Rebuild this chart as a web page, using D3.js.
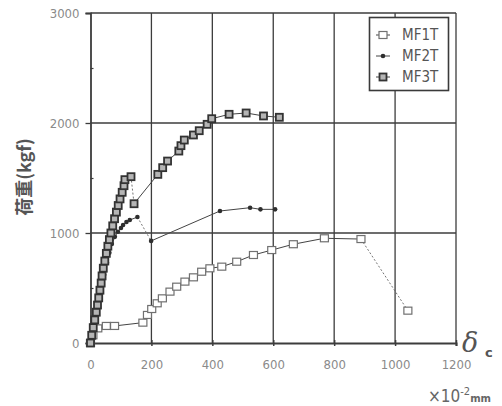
<!DOCTYPE html>
<html>
<head>
<meta charset="utf-8">
<script src="https://cdn.jsdelivr.net/npm/d3@7"></script>
<style>
  html, body { margin: 0; padding: 0; background: #fff; }
  svg { display: block; }
</style>
</head>
<body>
<svg id="chart" width="502" height="406"></svg>
<script>
// Load–displacement curves of three specimens (displacement in 1e-2 mm, load in kgf)
const xTicks = [0, 200, 400, 600, 800, 1000, 1200];
const yTicks = [0, 1000, 2000, 3000];
const yMinorTicks = [500, 1500, 2500];
const seriesNames = ["MF1T", "MF2T", "MF3T"];

const mf1tX = [0, 8, 24, 52, 79, 172, 187, 201, 219, 236, 261, 283, 310, 338, 365, 392, 431, 480, 535, 595, 666, 768, 888, 1042];
const mf1tY = [0, 70, 133, 155, 155, 185, 255, 309, 361, 406, 467, 512, 558, 597, 648, 679, 694, 739, 800, 845, 898, 952, 945, 294];

const mf2tX = [0, 6, 13, 21, 29, 37, 45, 54, 62, 70, 80, 90, 100, 107, 118, 129, 154, 199, 425, 524, 558, 606];
const mf2tY = [0, 80, 180, 290, 400, 510, 620, 730, 820, 900, 965, 1012, 1045, 1073, 1100, 1118, 1145, 928, 1200, 1230, 1215, 1215];

const mf3tX = [0, 4, 9, 14, 19, 23, 27, 31, 35, 38, 42, 47, 52, 57, 62, 67, 73, 79, 85, 91, 97, 104, 110, 113, 133, 143, 221, 237, 253, 290, 297, 308, 338, 357, 383, 398, 455, 511, 568, 620];
const mf3tY = [0, 70, 140, 210, 280, 345, 410, 480, 545, 610, 680, 745, 815, 880, 940, 1000, 1065, 1130, 1190, 1250, 1310, 1370, 1430, 1485, 1512, 1266, 1533, 1594, 1654, 1745, 1794, 1845, 1891, 1930, 1988, 2039, 2079, 2091, 2064, 2052];

// index of the point after which the curve drops (drawn dotted)
const dropAfter = [22, 16, 24];

const svg = d3.select("#chart");
const x = d3.scaleLinear().domain([0, 1200]).range([90.5, 456]);
const y = d3.scaleLinear().domain([0, 3000]).range([343, 13]);

const gridColor = "#3c3c3c";
const labelColor = "#8a8a8a";
const tickFont = "'Liberation Sans Narrow', 'DejaVu Sans Condensed', sans-serif";

// grid lines
const grid = svg.append("g");
grid.selectAll("line.v").data(xTicks.slice(1)).join("line")
  .attr("x1", d => x(d)).attr("x2", d => x(d))
  .attr("y1", y(3000)).attr("y2", y(0))
  .attr("stroke", gridColor).attr("stroke-width", 1.3);
grid.selectAll("line.h").data(yTicks.slice(1)).join("line")
  .attr("x1", x(0)).attr("x2", x(1200))
  .attr("y1", d => y(d)).attr("y2", d => y(d))
  .attr("stroke", gridColor).attr("stroke-width", 1.3);

// axes
const yAxis = d3.axisLeft(y).tickValues(yTicks).tickSize(5).tickPadding(6).tickFormat(d3.format("d"));
const gy = svg.append("g").attr("transform", `translate(${x(0)},0)`).call(yAxis);
gy.select(".domain").attr("stroke", gridColor).attr("stroke-width", 1.8);
gy.selectAll(".tick line").attr("stroke", gridColor).attr("stroke-width", 1.3);
gy.selectAll(".tick text").attr("fill", labelColor).attr("font-family", tickFont).attr("font-size", 13);

const yMinor = d3.axisRight(y).tickValues(yMinorTicks).tickSize(3).tickFormat("");
const gym = svg.append("g").attr("transform", `translate(${x(0)},0)`).call(yMinor);
gym.select(".domain").remove();
gym.selectAll(".tick line").attr("stroke", gridColor).attr("stroke-width", 1.2);

const xAxis = d3.axisBottom(x).tickValues(xTicks).tickSize(3).tickPadding(14).tickFormat(d3.format("d"));
const gx = svg.append("g").attr("transform", `translate(0,${y(0)})`).call(xAxis);
gx.select(".domain").attr("stroke", gridColor).attr("stroke-width", 2);
gx.selectAll(".tick line").attr("stroke", gridColor).attr("stroke-width", 1.5).attr("y1", -3);
gx.selectAll(".tick text").attr("fill", labelColor).attr("font-family", tickFont).attr("font-size", 13);

// series drawing
const series = [
  { name: seriesNames[0], xs: mf1tX, ys: mf1tY, drop: dropAfter[0] },
  { name: seriesNames[1], xs: mf2tX, ys: mf2tY, drop: dropAfter[1] },
  { name: seriesNames[2], xs: mf3tX, ys: mf3tY, drop: dropAfter[2] }
];

const line = d3.line().x(d => x(d[0])).y(d => y(d[1]));

function drawMarker(g, kind, cx, cy) {
  if (kind === 0) {
    g.append("rect").attr("x", cx - 4).attr("y", cy - 3.5).attr("width", 8).attr("height", 7)
      .attr("fill", "#fff").attr("stroke", "#707070").attr("stroke-width", 1.2);
  } else if (kind === 1) {
    g.append("circle").attr("cx", cx).attr("cy", cy).attr("r", 2.3).attr("fill", "#2e2e2e");
  } else {
    g.append("rect").attr("x", cx - 3.5).attr("y", cy - 3.5).attr("width", 7).attr("height", 7)
      .attr("fill", "#b5b5b5").attr("stroke", "#333").attr("stroke-width", 1.8);
  }
}

series.forEach((s, k) => {
  const pts = s.xs.map((v, i) => [v, s.ys[i]]);
  const g = svg.append("g");
  g.append("path").datum(pts.slice(0, s.drop + 1)).attr("d", line)
    .attr("fill", "none").attr("stroke", "#444").attr("stroke-width", 1);
  g.append("path").datum(pts.slice(s.drop, s.drop + 2)).attr("d", line)
    .attr("fill", "none").attr("stroke", "#666").attr("stroke-width", 0.9).attr("stroke-dasharray", "2,2");
  g.append("path").datum(pts.slice(s.drop + 1)).attr("d", line)
    .attr("fill", "none").attr("stroke", "#444").attr("stroke-width", 1);
  pts.forEach(p => drawMarker(g, k, x(p[0]), y(p[1])));
});

// legend
const lg = svg.append("g");
lg.append("rect").attr("x", 369.5).attr("y", 17.5).attr("width", 79).attr("height", 73)
  .attr("fill", "#fff").attr("stroke", "#3a3a3a").attr("stroke-width", 1.6);
const legendY = [35, 56, 77];
seriesNames.forEach((n, k) => {
  const cy = legendY[k];
  lg.append("line").attr("x1", 376).attr("x2", 390).attr("y1", cy).attr("y2", cy)
    .attr("stroke", "#444").attr("stroke-width", 1);
  drawMarker(lg, k, 383, cy);
  lg.append("text").attr("x", 402).attr("y", cy + 5).text(n)
    .attr("font-family", tickFont).attr("font-size", 15).attr("fill", "#555");
});

// axis titles
svg.append("text")
  .attr("transform", "translate(31,177) rotate(-90)")
  .attr("text-anchor", "middle")
  .attr("font-family", "'Noto Sans CJK JP', sans-serif")
  .attr("font-weight", "bold").attr("font-size", 18).attr("fill", "#555")
  .text("荷重(kgf)");

svg.append("text").attr("x", 462).attr("y", 352).attr("fill", "#555")
  .attr("font-family", "'DejaVu Serif', serif").attr("font-style", "italic").attr("font-size", 27)
  .text("δ");
svg.append("text").attr("x", 485).attr("y", 357).attr("fill", "#555")
  .attr("font-family", "'DejaVu Sans', sans-serif").attr("font-weight", "bold").attr("font-size", 13)
  .text("c");

const un = svg.append("text").attr("x", 428).attr("y", 402).attr("fill", "#666");
un.append("tspan").text("×10").attr("font-family", tickFont).attr("font-size", 17);
un.append("tspan").text("-2").attr("font-family", tickFont).attr("font-size", 11).attr("dy", -7);
un.append("tspan").text("mm").attr("font-family", "'DejaVu Sans', sans-serif").attr("font-weight", "bold")
  .attr("font-size", 10).attr("dy", 7);
</script>
</body>
</html>
